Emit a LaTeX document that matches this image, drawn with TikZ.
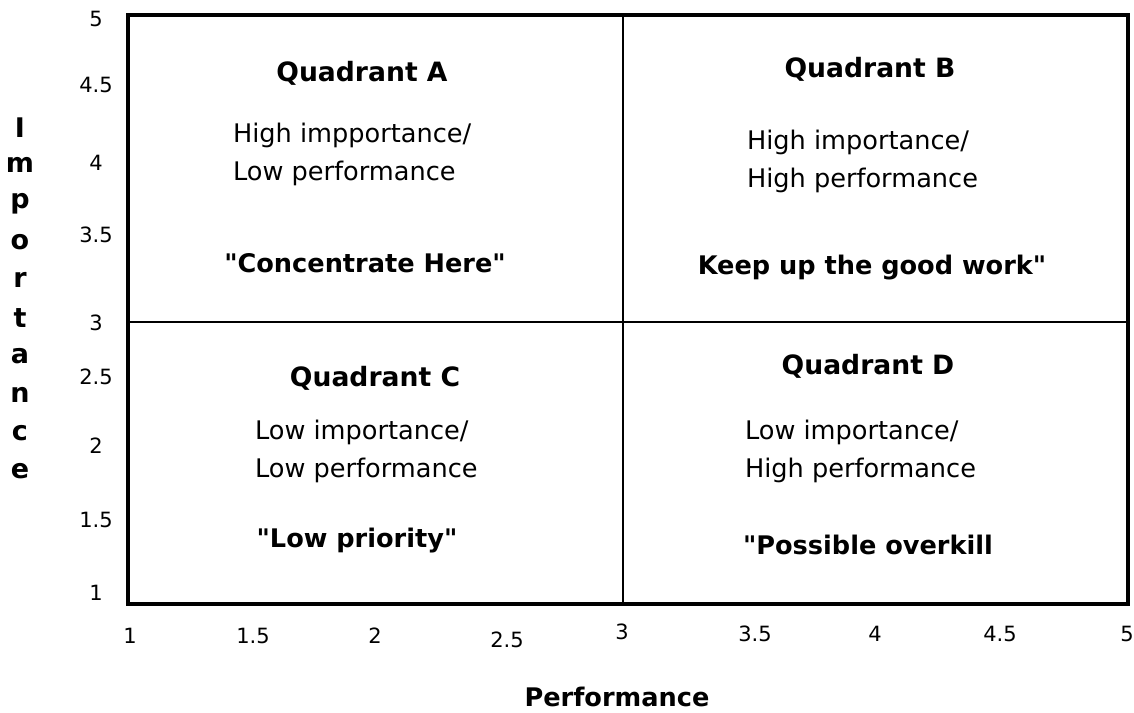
\documentclass[tikz,border=0pt]{standalone}
\usepackage{fontspec}
\setmainfont{DejaVu Sans}[Ligatures=TeXOff]
\newlength{\du}
\setlength{\du}{0.5pt}
\tikzset{
  frame/.style={line width=4\du},
  divider/.style={line width=2.2\du},
  tick/.style={font=\fontsize{10.5}{12}\selectfont},
  qtitle/.style={font=\fontsize{13.3}{15}\selectfont\bfseries},
  qtext/.style={anchor=west, align=left, font=\fontsize{12.8}{19}\selectfont},
  qmotto/.style={font=\fontsize{12.8}{15}\selectfont\bfseries},
  axislabel/.style={font=\fontsize{12.8}{16}\selectfont\bfseries},
}
\begin{document}
\begin{tikzpicture}
\pgftransformyscale{-1.000000}
\useasboundingbox (0\du,0\du) rectangle (1134\du,712\du);
% frame and dividers
\node[draw, frame, minimum width=1000\du, minimum height=589\du, inner sep=0pt] (grid) at (628\du,309.5\du) {};
\coordinate (midtop) at (623\du,15\du);
\coordinate (midbot) at (623\du,604\du);
\coordinate (midleft) at (128\du,322\du);
\coordinate (midright) at (1128\du,322\du);
\draw[divider] (midtop)--(midbot);
\draw[divider] (midleft)--(midright);
% ticks on the importance axis
\foreach \v/\y in {5/19, 4.5/85, 4/163, 3.5/235, 3/323, 2.5/377, 2/446, 1.5/520, 1/593}
  \node[tick] (ytick\v) at (96\du,\y\du) {\v};
% ticks on the performance axis
\foreach \v/\x/\y in {1/130/636, 1.5/253/636, 2/375/636, 2.5/507/640, 3/622/632, 3.5/755/634, 4/875/634, 4.5/1000/634, 5/1127/634}
  \node[tick] (xtick\v) at (\x\du,\y\du) {\v};
% axis labels
\node[axislabel] (perf) at (617\du,697\du) {Performance};
\foreach \c [count=\i] in {I,m,p,o,r,t,a,n,c,e}
  \node[axislabel, font=\fontsize{13.5}{16}\selectfont\bfseries] (imp\i) at (20\du,89\du+\i*38.2\du) {\c};
% quadrant A
\node[qtitle] (qa) at (362\du,73\du) {Quadrant A};
\node[qtext] (qatext) at (226\du,154\du) {High impportance/\\Low performance};
\node[qmotto] (qamotto) at (365\du,263\du) {"Concentrate Here"};
% quadrant B
\node[qtitle] (qb) at (870\du,69\du) {Quadrant B};
\node[qtext] (qbtext) at (740\du,161\du) {High importance/\\High performance};
\node[qmotto] (qbmotto) at (872\du,268\du) {Keep up the good work"};
% quadrant C
\node[qtitle] (qc) at (375\du,378\du) {Quadrant C};
\node[qtext] (qctext) at (248\du,451\du) {Low importance/\\Low performance};
\node[qmotto] (qcmotto) at (357\du,541\du) {"Low priority"};
% quadrant D
\node[qtitle] (qd) at (868\du,366\du) {Quadrant D};
\node[qtext] (qdtext) at (738\du,451\du) {Low importance/\\High performance};
\node[qmotto] (qdmotto) at (868\du,545\du) {"Possible overkill};
\end{tikzpicture}
\end{document}
